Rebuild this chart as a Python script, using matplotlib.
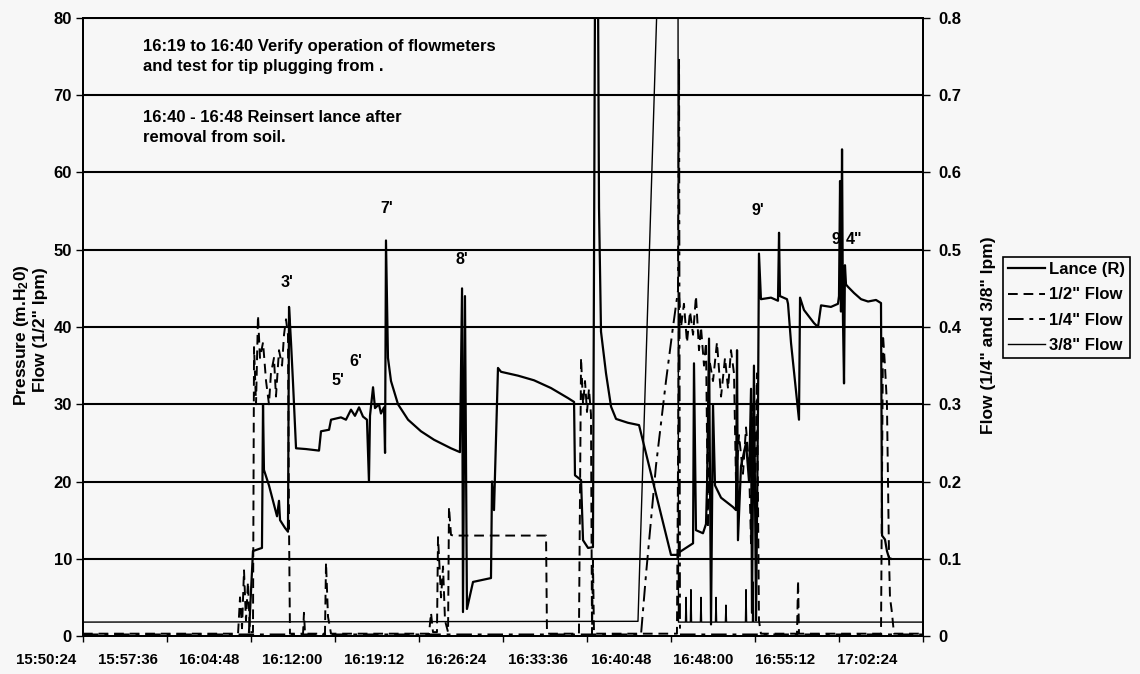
import numpy as np
import matplotlib.pyplot as plt

plt.rcParams['font.family'] = ['Liberation Sans', 'DejaVu Sans']
plt.rcParams['font.weight'] = 'bold'
plt.rcParams['mathtext.fontset'] = 'custom'
plt.rcParams['mathtext.rm'] = 'Liberation Sans:bold'
plt.rcParams['mathtext.default'] = 'rm'

BG = '#f7f7f7'

# time axis: minutes after 15:50:24
lance_t = [14.23, 14.57, 15.34, 15.43, 15.51, 15.94, 16.37, 16.63, 16.80, 16.89,
           17.31, 17.57, 17.66, 17.83, 18.00, 18.26, 19.11, 20.23, 20.40, 21.09,
           21.26, 22.11, 22.54, 22.97, 23.31, 23.66, 24.00, 24.34, 24.51, 24.60,
           24.86, 25.03, 25.37, 25.54, 25.80, 25.89, 25.97, 26.14, 26.40, 27.00,
           27.86, 28.97, 30.09, 31.54, 32.31, 32.49, 32.57, 32.74, 32.91, 33.09,
           33.43, 34.97, 35.06, 35.23, 35.57, 35.83, 37.29, 38.66, 40.11, 41.57,
           42.09, 42.17, 42.69, 42.86, 43.29, 43.71, 43.89, 44.14, 44.23, 44.40,
           44.83, 45.26, 45.69, 46.71, 47.66, 50.40, 50.91, 51.17, 52.29, 52.37,
           52.54, 53.14, 53.40, 53.49, 53.66, 53.83, 54.00, 54.17, 54.69, 55.71,
           55.97, 56.06, 56.14, 56.40, 56.83, 57.09, 57.26, 57.34, 57.51, 57.69,
           57.86, 57.94, 58.11, 58.97, 59.57, 59.66, 59.74, 60.34, 60.43, 60.69,
           61.37, 61.46, 61.80, 62.66, 63.00, 63.26, 64.11, 64.71, 64.80, 64.89,
           64.97, 65.06, 65.14, 65.23, 65.31, 65.40, 65.57, 66.09, 66.69, 67.29,
           67.97, 68.40, 68.49, 68.74, 68.91, 69.09, 69.26]
lance_p = [0.5, 11.0, 11.4, 30.0, 21.5, 19.5, 17.0, 15.5, 17.5, 15.0,
           14.0, 13.5, 42.6, 38.0, 32.8, 24.3, 24.2, 24.0, 26.5, 26.7,
           28.0, 28.3, 28.0, 29.3, 28.5, 29.6, 28.4, 28.0, 20.0, 28.5,
           32.2, 29.5, 30.0, 28.8, 29.6, 23.7, 51.2, 36.0, 33.0, 30.0,
           28.0, 26.5, 25.4, 24.3, 23.8, 45.0, 3.1, 44.0, 3.5, 4.7,
           7.0, 7.5, 20.0, 16.3, 34.7, 34.2, 33.7, 33.1, 32.1, 30.8,
           30.3, 20.8, 20.2, 12.4, 11.4, 11.5, 85.0, 85.0, 55.4, 39.4,
           34.0, 29.7, 28.1, 27.6, 27.3, 10.5, 10.5, 10.9, 12.0, 35.3,
           13.7, 13.3, 14.5, 19.5, 38.5, 1.5, 30.0, 19.5, 17.9, 16.7,
           16.3, 37.0, 12.4, 22.0, 25.0, 20.0, 32.0, 3.0, 35.0, 2.0,
           30.0, 49.5, 43.6, 43.8, 43.4, 52.2, 44.0, 43.6, 43.0, 37.9,
           28.0, 43.8, 42.2, 40.5, 40.0, 42.8, 42.6, 43.0, 44.0, 58.9,
           42.0, 63.0, 41.0, 32.7, 48.0, 45.5, 45.2, 44.4, 43.6, 43.3,
           43.5, 43.1, 13.0, 12.5, 11.0, 10.1, 10.0]

half_t = [0.0, 13.29, 13.46, 13.63, 13.80, 13.97, 14.14, 14.31, 14.57, 14.66,
          14.83, 15.00, 15.17, 15.43, 15.69, 15.94, 16.11, 16.37, 16.54, 16.80,
          17.06, 17.23, 17.40, 17.57, 17.66, 17.74, 18.86, 18.94, 19.03, 20.74,
          20.83, 21.00, 21.26, 29.66, 29.83, 30.00, 30.34, 30.43, 30.69, 30.86,
          31.03, 31.29, 31.37, 31.54, 31.71, 39.69, 39.77, 42.51, 42.69, 42.86,
          43.03, 43.20, 43.37, 43.54, 43.63, 43.71, 43.80, 50.91, 51.09, 51.26,
          51.51, 51.77, 52.03, 52.29, 52.54, 52.80, 52.97, 53.23, 53.40, 53.57,
          53.66, 54.00, 54.34, 54.69, 55.03, 55.29, 55.54, 55.80, 55.97, 56.23,
          56.57, 56.83, 57.09, 57.26, 57.43, 57.60, 57.77, 57.94, 58.11, 61.20,
          61.29, 61.37, 68.40, 68.57, 68.74, 68.91, 69.00, 69.09, 69.17, 69.34,
          69.51, 72.0]
half_q = [0.3, 0.3, 5.0, 1.0, 8.5, 2.0, 7.0, 0.5, 0.5, 37.4,
          30.0, 41.5, 36.0, 38.0, 33.0, 30.0, 34.0, 36.0, 31.0, 37.0,
          35.0, 39.0, 41.0, 39.0, 14.0, 0.3, 0.3, 3.0, 0.3, 0.3,
          9.5, 2.5, 0.3, 0.3, 3.0, 0.5, 0.5, 12.8, 5.0, 9.0,
          2.0, 0.5, 16.7, 13.1, 13.0, 13.0, 0.3, 0.3, 36.0, 30.0,
          33.0, 29.0, 32.0, 28.7, 0.3, 9.8, 0.3, 0.3, 44.0, 40.0,
          43.0, 38.0, 42.0, 39.0, 44.0, 37.0, 40.0, 35.0, 38.0, 14.0,
          36.0, 33.0, 38.0, 31.0, 36.0, 32.0, 37.0, 34.0, 20.0, 26.0,
          21.0, 27.0, 22.0, 12.0, 30.0, 18.0, 34.0, 2.0, 0.3, 0.3,
          7.2, 0.3, 0.3, 39.0, 35.0, 30.0, 20.0, 10.0, 5.0, 3.0,
          0.3, 0.3]

quarter_t = [0.0, 47.83, 48.26, 49.11, 49.97, 50.57, 51.00, 51.09, 51.17, 72.0]
quarter_q = [0.002, 0.002, 0.08, 0.22, 0.33, 0.40, 0.447, 0.747, 0.002, 0.002]

three8_t = [0.0, 47.57, 49.37, 51.00, 51.04, 51.64, 51.69, 51.74, 52.06, 52.11,
            52.16, 52.92, 52.97, 53.02, 54.21, 54.26, 54.31, 55.06, 55.11, 55.16,
            56.78, 56.83, 56.88, 57.38, 57.43, 57.48, 72.0]
three8_q = [0.018, 0.019, 0.90, 0.90, 0.018, 0.018, 0.05, 0.018, 0.018, 0.06,
            0.018, 0.018, 0.05, 0.018, 0.018, 0.05, 0.018, 0.018, 0.04, 0.018,
            0.018, 0.06, 0.018, 0.018, 0.07, 0.018, 0.018]

time_labels = ['15:50:24', '15:57:36', '16:04:48', '16:12:00', '16:19:12', '16:26:24',
               '16:33:36', '16:40:48', '16:48:00', '16:55:12', '17:02:24']

fig = plt.figure(figsize=(11.4, 6.74), dpi=100, facecolor=BG)
ax = fig.add_axes([83 / 1140, 38 / 674, 840 / 1140, 618 / 674])
ax.set_facecolor(BG)
ax.set_xlim(0, 72)
ax.set_ylim(0, 80)

for y in range(10, 81, 10):
    ax.axhline(y, color='k', lw=1.5, zorder=1)

l_lance, = ax.plot(lance_t, lance_p, color='k', lw=1.6, zorder=3)
l_half, = ax.plot(half_t, half_q, color='k', lw=1.4, ls=(0, (5, 3)), zorder=3)

ax2 = ax.twinx()
ax2.set_ylim(0, 0.8)
l_quarter, = ax2.plot(quarter_t, quarter_q, color='k', lw=1.4, ls=(0, (8, 3, 2, 3)))
l_three8, = ax2.plot(three8_t, three8_q, color='k', lw=1.0)

# ticks
ax.set_yticks(range(0, 81, 10))
ax.tick_params(axis='y', direction='out', length=5, width=1, labelsize=12, pad=3)
ax2.set_yticks(np.arange(0, 0.81, 0.1))
ax2.set_yticklabels(['0'] + ['%.1f' % v for v in np.arange(0.1, 0.81, 0.1)])
ax2.tick_params(axis='y', direction='out', length=5, width=1, labelsize=12, pad=6)
ax.set_xticks(np.arange(0, 72.1, 7.2))
ax.set_xticklabels([])
ax.tick_params(axis='x', direction='out', length=4, width=1)
for a in (ax, ax2):
    for s in a.spines.values():
        s.set_linewidth(1.4)
        s.set_color('k')

# the date labels sit left of their ticks in the original
label_pos = [-3.17, 3.86, 10.80, 17.91, 24.94, 31.97, 39.0, 46.11, 53.14, 60.17, 67.20]
for pos, lab in zip(label_pos, time_labels):
    ax.annotate(lab, xy=(pos, 0), xycoords=('data', 'axes fraction'),
                xytext=(0, -12), textcoords='offset points',
                ha='center', va='top', fontsize=10.8, annotation_clip=False)

# point markers
marks = [("3'", 17.49, 45.8), ("5'", 21.86, 33.1), ("6'", 23.40, 35.5),
         ("7'", 26.06, 55.4), ("8'", 32.49, 48.7), ("9'", 57.86, 55.1),
         ("9", 64.54, 51.3), ('4"', 66.09, 51.3)]
for txt, x, y in marks:
    ax.text(x, y, txt, ha='center', va='center', fontsize=11.5, zorder=5)

ax.text(0.0714, 0.966, '16:19 to 16:40 Verify operation of flowmeters\nand test for tip plugging from .',
        transform=ax.transAxes, ha='left', va='top', fontsize=12, linespacing=1.42)
ax.text(0.0714, 0.851, '16:40 - 16:48 Reinsert lance after\nremoval from soil.',
        transform=ax.transAxes, ha='left', va='top', fontsize=12, linespacing=1.42)

fig.text(22 / 1140, 1 - 335 / 674, 'Pressure (m.H$_2$0)', rotation=90,
         ha='center', va='center', fontsize=12.5)
fig.text(41 / 1140, 1 - 330 / 674, 'Flow (1/2" lpm)', rotation=90,
         ha='center', va='center', fontsize=12.5)
fig.text(988 / 1140, 1 - 335 / 674, 'Flow (1/4" and 3/8" lpm)', rotation=90,
         ha='center', va='center', fontsize=12.5)

leg = fig.legend([l_lance, l_half, l_quarter, l_three8],
                 ['Lance (R)', '1/2" Flow', '1/4" Flow', '3/8" Flow'],
                 loc='upper left', bbox_to_anchor=(1003 / 1140, 1 - 257 / 674),
                 frameon=True, fancybox=False, edgecolor='k', facecolor=BG,
                 framealpha=1, fontsize=12, handlelength=2.2, labelspacing=0.62,
                 borderpad=0.3, handletextpad=0.25, borderaxespad=0)
leg.get_frame().set_linewidth(1.2)

fig.savefig('out.png', dpi=100, facecolor=BG)
